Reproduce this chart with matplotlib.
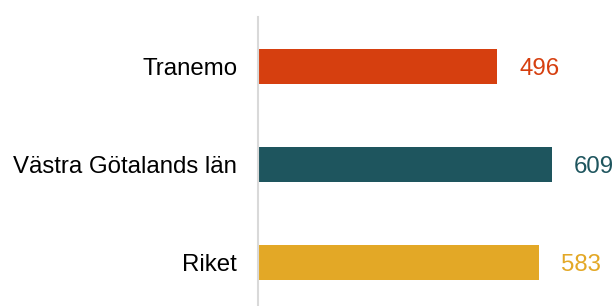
import matplotlib
matplotlib.use("Agg")
import matplotlib.pyplot as plt

categories = ["Tranemo", "Västra Götalands län", "Riket"]
values = [496, 609, 583]
colors = ["#D63F0F", "#1E555E", "#E3A826"]

plt.rcParams['font.family'] = ['Liberation Sans', 'DejaVu Sans']

W, H = 616, 306
scale = 0.482
fig = plt.figure(figsize=(W / 100, H / 100), dpi=100)
ax = fig.add_axes([258 / W, 0, (W - 258) / W, (306 - 17) / H])

pos = list(range(len(categories)))
ax.barh(pos, values, height=0.357, color=colors, left=0)
ax.set_xlim(0, (W - 258) / scale)
ax.set_ylim(2.444, -0.505)

for p, v, c in zip(pos, values, colors):
    ax.text(v + 22 / scale, p, f"{v}", va="center_baseline", ha="left", color=c, fontsize=17.3)

ax.set_yticks(pos)
ax.set_yticklabels(categories, fontsize=17.3, color="black")
ax.tick_params(axis="y", length=0, pad=15)
ax.set_xticks([])
for s in ["top", "right", "bottom"]:
    ax.spines[s].set_visible(False)
ax.spines["left"].set_color("#D9D9D9")
ax.spines["left"].set_linewidth(1.5)

fig.savefig("out.png", dpi=100)
